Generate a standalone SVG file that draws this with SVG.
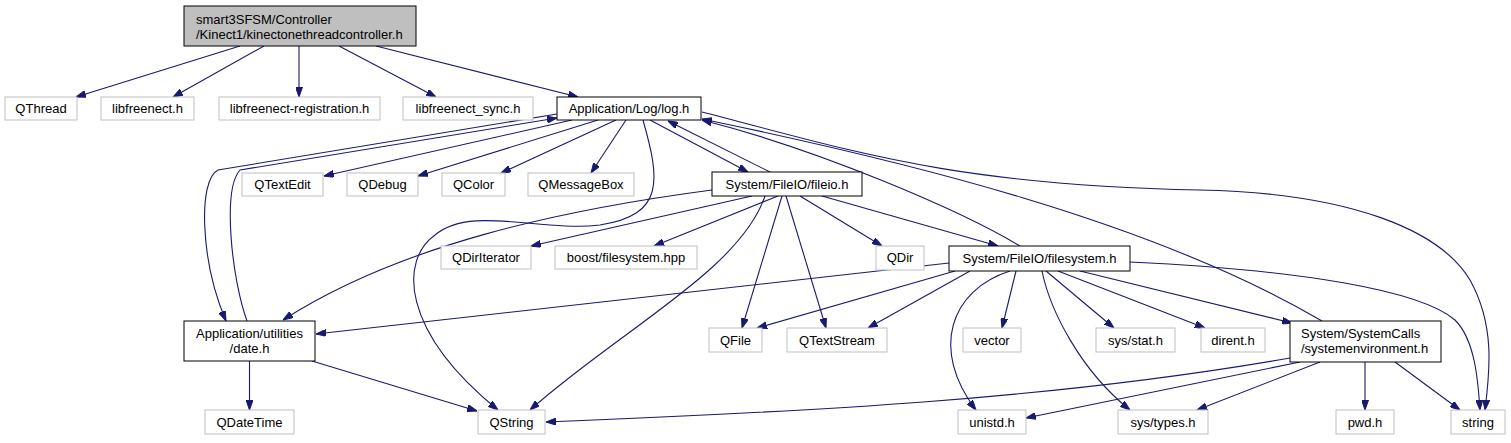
<svg xmlns="http://www.w3.org/2000/svg" width="1511" height="443" viewBox="0 0 1511 443">
<style>
.n rect{fill:#ffffff;stroke:#bfbfbf;stroke-width:1}
.k rect{fill:#ffffff;stroke:#000000;stroke-width:1}
.r rect{fill:#bfbfbf;stroke:#000000;stroke-width:1}
text{font-family:"Liberation Sans",Arial,Helvetica,sans-serif;font-size:13px;fill:#000000}
.c{text-anchor:middle}
#edges path{fill:none;stroke:#191970;stroke-width:1.1;marker-end:url(#a)}
</style>
<defs>
<marker id="a" viewBox="0 0 10 7" refX="10" refY="3.5" markerWidth="10" markerHeight="7" orient="auto" markerUnits="userSpaceOnUse">
<path d="M0,0 L10,3.5 L0,7 z" fill="#191970" stroke="#191970" stroke-width="1"/>
</marker>
</defs>
<rect width="1511" height="443" fill="#ffffff"/>
<g id="edges">
<path d="M240,46 L76,97"/>
<path d="M264,46 L173,97"/>
<path d="M299,46 L299,97"/>
<path d="M339,46 L436,97"/>
<path d="M376,46 L578,97"/>
<path d="M572,120 L324,176"/>
<path d="M598,120 L418,176"/>
<path d="M616,120 L501,173"/>
<path d="M626,120 L591,173"/>
<path d="M650,120 L748,172"/>
<path d="M770,172 L668,121"/>
<path d="M1020,246 C 960,210 820,150 702,120"/>
<path d="M1322,321 C 1150,220 900,160 702,119"/>
<path d="M702,112 C 850,150 950,185 1200,190 C 1350,193 1440,230 1470,280 C 1495,325 1490,370 1485,410"/>
<path d="M557,114 L218,170 C 198,180 200,260 226,321"/>
<path d="M247,321 C 232,280 222,190 240,170 L557,118"/>
<path d="M643,120 C 660,180 665,215 600,225 C 540,232 470,205 435,235 C 400,260 400,330 498,410"/>
<path d="M712,190 C 560,210 400,245 283,320"/>
<path d="M949,263 L316,334"/>
<path d="M249.5,361 L249.5,410"/>
<path d="M312,361 L477,411"/>
<path d="M765,196 C 740,270 620,330 530,410"/>
<path d="M1290,358 C 1050,400 800,412 546,422"/>
<path d="M752,196 L531,246"/>
<path d="M778,196 L654,246"/>
<path d="M782,196 L742,328"/>
<path d="M786,196 L826,328"/>
<path d="M800,196 L882,246"/>
<path d="M822,196 L998,246"/>
<path d="M955,271 L757,328"/>
<path d="M970,271 L868,328"/>
<path d="M1010,271 C 950,290 930,350 976,410"/>
<path d="M1016,271 L1002,328"/>
<path d="M1042,271 C 1050,310 1080,370 1130,410"/>
<path d="M1046,271 L1114,328"/>
<path d="M1058,271 L1205,328"/>
<path d="M1080,271 L1292,323"/>
<path d="M1130,262 C 1300,270 1420,290 1455,320 C 1475,340 1478,380 1480,410"/>
<path d="M1300,362 L1026,418"/>
<path d="M1320,362 L1197,410"/>
<path d="M1365,362 L1365,410"/>
<path d="M1395,362 L1460,410"/>
</g>
<g id="root" class="r"><rect x="184" y="6" width="232" height="40"/><text x="196" y="24">smart3SFSM/Controller</text><text x="196" y="39">/Kinect1/kinectonethreadcontroller.h</text></g>
<g id="qthread" class="n"><rect x="5" y="97" width="72" height="23"/><text class="c" x="41" y="113">QThread</text></g>
<g id="libfreenect" class="n"><rect x="101" y="97" width="93" height="23"/><text class="c" x="147.5" y="113">libfreenect.h</text></g>
<g id="libfreenect_reg" class="n"><rect x="219" y="97" width="161" height="23"/><text class="c" x="299.5" y="113">libfreenect-registration.h</text></g>
<g id="libfreenect_sync" class="n"><rect x="403" y="97" width="130" height="23"/><text class="c" x="468" y="113">libfreenect_sync.h</text></g>
<g id="log" class="k"><rect x="557" y="97" width="144" height="23"/><text class="c" x="629" y="113">Application/Log/log.h</text></g>
<g id="qtextedit" class="n"><rect x="242" y="173" width="81" height="23"/><text class="c" x="282.5" y="189">QTextEdit</text></g>
<g id="qdebug" class="n"><rect x="347" y="173" width="71" height="23"/><text class="c" x="382.5" y="189">QDebug</text></g>
<g id="qcolor" class="n"><rect x="442" y="173" width="63" height="23"/><text class="c" x="473.5" y="189">QColor</text></g>
<g id="qmessagebox" class="n"><rect x="528" y="173" width="106" height="23"/><text class="c" x="581" y="189">QMessageBox</text></g>
<g id="fileio" class="k"><rect x="712" y="172" width="150" height="24"/><text class="c" x="787" y="189">System/FileIO/fileio.h</text></g>
<g id="qdiriterator" class="n"><rect x="441" y="246" width="90" height="23"/><text class="c" x="486" y="262">QDirIterator</text></g>
<g id="boostfs" class="n"><rect x="555" y="246" width="142" height="23"/><text class="c" x="626" y="262">boost/filesystem.hpp</text></g>
<g id="qdir" class="n"><rect x="876" y="246" width="48" height="24"/><text class="c" x="900" y="262">QDir</text></g>
<g id="filesystem" class="k"><rect x="949" y="246" width="181" height="25"/><text class="c" x="1039.5" y="263">System/FileIO/filesystem.h</text></g>
<g id="date" class="k"><rect x="184" y="321" width="131" height="40"/><text class="c" x="249.5" y="338">Application/utilities</text><text class="c" x="249.5" y="353">/date.h</text></g>
<g id="qfile" class="n"><rect x="709" y="328" width="53" height="24"/><text class="c" x="735.5" y="345">QFile</text></g>
<g id="qtextstream" class="n"><rect x="787" y="328" width="100" height="24"/><text class="c" x="837" y="345">QTextStream</text></g>
<g id="vector" class="n"><rect x="963" y="328" width="58" height="24"/><text class="c" x="992" y="345">vector</text></g>
<g id="sysstat" class="n"><rect x="1096" y="328" width="79" height="24"/><text class="c" x="1135.5" y="345">sys/stat.h</text></g>
<g id="dirent" class="n"><rect x="1201" y="328" width="64" height="24"/><text class="c" x="1233" y="345">dirent.h</text></g>
<g id="sysenv" class="k"><rect x="1290" y="321" width="151" height="41"/><text x="1301" y="338">System/SystemCalls</text><text x="1301" y="353">/systemenvironment.h</text></g>
<g id="qdatetime" class="n"><rect x="205" y="410" width="89" height="24"/><text class="c" x="249.5" y="427">QDateTime</text></g>
<g id="qstring" class="n"><rect x="478" y="410" width="67" height="24"/><text class="c" x="511.5" y="427">QString</text></g>
<g id="unistd" class="n"><rect x="958" y="410" width="68" height="24"/><text class="c" x="992" y="427">unistd.h</text></g>
<g id="systypes" class="n"><rect x="1118" y="410" width="90" height="24"/><text class="c" x="1163" y="427">sys/types.h</text></g>
<g id="pwd" class="n"><rect x="1336" y="410" width="58" height="24"/><text class="c" x="1365" y="427">pwd.h</text></g>
<g id="string" class="n"><rect x="1451" y="410" width="54" height="24"/><text class="c" x="1478" y="427">string</text></g>
</svg>
